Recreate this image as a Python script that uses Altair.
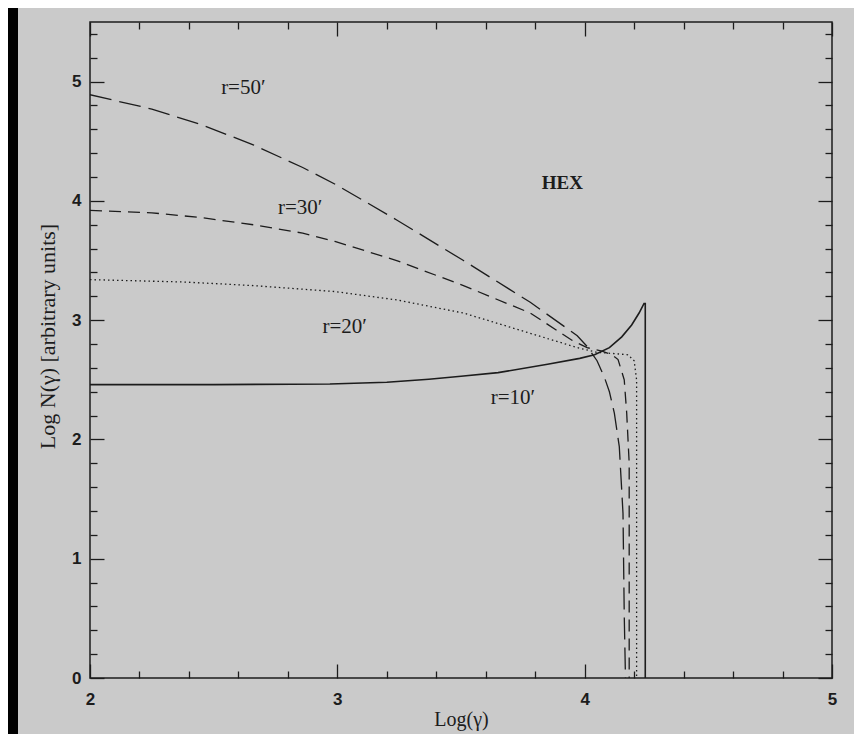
import altair as alt
import pandas as pd

# ---- data ----
r10_x = [2.0, 2.5, 2.97, 3.2, 3.37, 3.5, 3.65, 3.85, 3.98, 4.04, 4.10, 4.15, 4.19, 4.22, 4.24, 4.245, 4.245]
r10_y = [2.46, 2.46, 2.465, 2.48, 2.505, 2.53, 2.56, 2.63, 2.68, 2.71, 2.77, 2.86, 2.96, 3.06, 3.14, 3.14, 0.0]

r20_x = [2.0, 2.38, 2.66, 2.99, 3.24, 3.51, 3.78, 3.97, 4.05, 4.12, 4.175, 4.20, 4.21, 4.21]
r20_y = [3.34, 3.32, 3.29, 3.24, 3.17, 3.06, 2.89, 2.77, 2.73, 2.72, 2.71, 2.66, 2.50, 0.0]

r30_x = [2.0, 2.25, 2.45, 2.66, 2.86, 2.99, 3.24, 3.51, 3.78, 3.95, 4.01, 4.07, 4.11, 4.135, 4.16, 4.17, 4.18, 4.18]
r30_y = [3.92, 3.90, 3.86, 3.80, 3.73, 3.66, 3.50, 3.29, 3.06, 2.83, 2.77, 2.74, 2.71, 2.67, 2.50, 2.22, 1.80, 0.0]

r50_x = [2.0, 2.25, 2.45, 2.66, 2.86, 3.0, 3.24, 3.51, 3.78, 3.97, 4.01, 4.05, 4.08, 4.10, 4.12, 4.14, 4.155, 4.16, 4.165]
r50_y = [4.89, 4.77, 4.64, 4.47, 4.28, 4.13, 3.84, 3.50, 3.15, 2.87, 2.78, 2.66, 2.52, 2.40, 2.22, 1.94, 1.38, 0.53, 0.0]

label_text = ["r=50′", "r=30′", "r=20′", "r=10′"]
label_x = [2.62, 2.85, 3.03, 3.71]
label_y = [4.95, 3.94, 2.94, 2.35]

hex_text = ["HEX"]
hex_x = [3.91]
hex_y = [4.15]

x_major = [2, 3, 4, 5]
x_minor = [2.2, 2.4, 2.6, 2.8, 3.2, 3.4, 3.6, 3.8, 4.2, 4.4, 4.6, 4.8]
y_major = [0, 1, 2, 3, 4, 5]
y_minor = [0.2, 0.4, 0.6, 0.8, 1.2, 1.4, 1.6, 1.8, 2.2, 2.4, 2.6, 2.8,
           3.2, 3.4, 3.6, 3.8, 4.2, 4.4, 4.6, 4.8, 5.2, 5.4]

# ---- styling ----
W, H = 742, 656
ink = "#1c1c1c"
bg = "#cacaca"
sans = "Liberation Sans"
serif = "Liberation Serif"
MAJ, MIN = 14, 7

xs = alt.Scale(domain=[2, 5], nice=False, zero=False)
ys = alt.Scale(domain=[0, 5.5], nice=False, zero=False)


def tick_axis(orient, values, size, offset):
    return alt.Axis(orient=orient, values=values, tickSize=size, offset=offset,
                    labels=False, domain=False, grid=False, title=None,
                    tickColor=ink, tickWidth=1.3)


x_label_axis = alt.Axis(orient="bottom", values=x_major, ticks=False, domain=False, grid=False,
                        labelFont=sans, labelFontSize=17, labelFontWeight="bold",
                        labelColor=ink, labelPadding=13, labelFlush=False, format="d",
                        title="Log(γ)", titleFont=serif, titleFontSize=20,
                        titleFontWeight="normal", titleColor=ink, titlePadding=2)
y_label_axis = alt.Axis(orient="left", values=y_major, ticks=False, domain=False, grid=False,
                        labelFont=sans, labelFontSize=17, labelFontWeight="bold",
                        labelColor=ink, labelPadding=9, format="d",
                        title="Log N(γ) [arbitrary units]", titleFont=serif, titleFontSize=22,
                        titleFontWeight="normal", titleColor=ink, titlePadding=12,
                        titleY=314)

x_axes = [
    x_label_axis,
    tick_axis("top", x_major, MAJ, -H),     # bottom edge, inward
    tick_axis("top", x_minor, MIN, -H),
    tick_axis("bottom", x_major, MAJ, -H),  # top edge, inward
    tick_axis("bottom", x_minor, MIN, -H),
]
y_axes = [
    y_label_axis,
    tick_axis("right", y_major, MAJ, -W),   # left edge, inward
    tick_axis("right", y_minor, MIN, -W),
    tick_axis("left", y_major, MAJ, -W),    # right edge, inward
    tick_axis("left", y_minor, MIN, -W),
]


def line_layer(xv, yv, dash, width, k):
    df = pd.DataFrame({"x": xv, "y": yv, "i": list(range(len(xv)))})
    kw = dict(color=ink, strokeWidth=width, clip=True)
    if dash:
        kw["strokeDash"] = dash
    return alt.Chart(df).mark_line(**kw).encode(
        x=alt.X("x:Q", scale=xs, axis=x_axes[k]),
        y=alt.Y("y:Q", scale=ys, axis=y_axes[k]),
        order=alt.Order("i:Q"),
    )


l10 = line_layer(r10_x, r10_y, None, 1.6, 0)
l20 = line_layer(r20_x, r20_y, [1.5, 3], 1.3, 1)
l30 = line_layer(r30_x, r30_y, [12, 7], 1.3, 2)
l50 = line_layer(r50_x, r50_y, [22, 8], 1.3, 3)

labels_df = pd.DataFrame({"x": label_x, "y": label_y, "t": label_text})
txt = alt.Chart(labels_df).mark_text(font=serif, fontSize=21, color=ink).encode(
    x=alt.X("x:Q", scale=xs, axis=x_axes[4]),
    y=alt.Y("y:Q", scale=ys, axis=y_axes[4]),
    text="t:N",
)

hex_df = pd.DataFrame({"x": hex_x, "y": hex_y, "t": hex_text})
hex_txt = alt.Chart(hex_df).mark_text(font=serif, fontSize=19, fontWeight="bold", color=ink).encode(
    x=alt.X("x:Q", scale=xs, axis=None),
    y=alt.Y("y:Q", scale=ys, axis=None),
    text="t:N",
)

# black strip at the left edge of the scanned page
strip = alt.Chart(pd.DataFrame({"a": [0]})).mark_rect(color="black").encode(
    x=alt.value(-82), x2=alt.value(-72), y=alt.value(-14), y2=alt.value(H + 60)
)

chart = alt.layer(strip, l10, l20, l30, l50, txt, hex_txt).resolve_axis(
    x="independent", y="independent"
).properties(
    width=W, height=H,
    autosize=alt.AutoSizeParams(type="none"),
    padding={"left": 82, "top": 14, "right": 22, "bottom": 56},
    background=bg,
).configure_view(stroke=ink, strokeWidth=1.5)

chart.save("out.html", embed_options={"renderer": "svg", "actions": False})
